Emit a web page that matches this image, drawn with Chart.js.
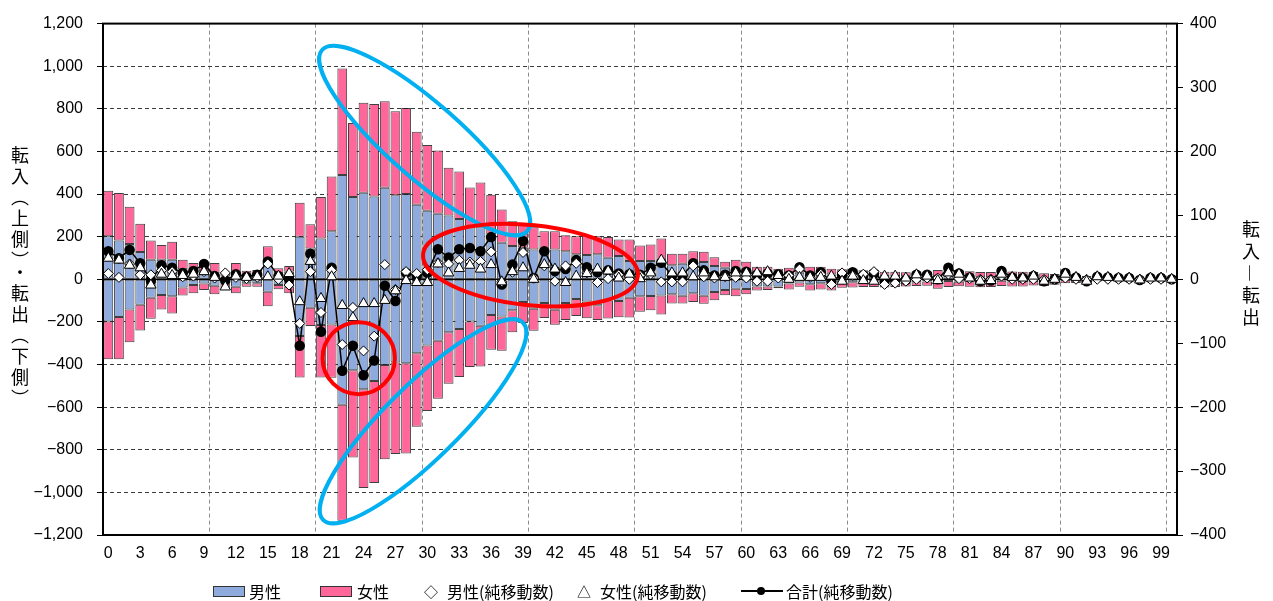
<!DOCTYPE html>
<html lang="ja">
<head>
<meta charset="utf-8">
<script src="https://cdn.jsdelivr.net/npm/chart.js@4.4.1/dist/chart.umd.min.js"></script>
<style>
  body { margin: 0; background: #fff; }
  #wrap { position: relative; width: 1273px; height: 601px; font-family: "Noto Sans CJK JP", sans-serif; color: #000; }
  #myChart { position: absolute; left: 0; top: 0; }
  .vtitle { position: absolute; writing-mode: vertical-rl; font-size: 18px; line-height: 20px; }
  .lg { position: absolute; top: 580px; font-size: 16px; line-height: 22px; white-space: nowrap; }
  .box { position: absolute; top: 586px; width: 30px; height: 9px; border: 1px solid #333; }
</style>
</head>
<body>
<div id="wrap">
  <canvas id="myChart" width="1273" height="601"></canvas>
  <div class="vtitle" style="left:10px; top:146px; letter-spacing:3px;">転入（上側）・転出（下側）</div>
  <div class="vtitle" style="left:1241px; top:220px; letter-spacing:4px;">転入―転出</div>

  <span class="box" style="left:213px; background:#8FAADC;"></span>
  <span class="lg" style="left:249px;">男性</span>
  <span class="box" style="left:320px; background:#FF6699;"></span>
  <span class="lg" style="left:357px;">女性</span>
  <span class="lg" style="left:424px; font-size:14px;">◇</span>
  <span class="lg" style="left:447px;">男性(純移動数)</span>
  <span class="lg" style="left:577px; font-size:14px;">△</span>
  <span class="lg" style="left:600px;">女性(純移動数)</span>
  <span style="position:absolute; left:741px; top:590px; width:42px; height:2px; background:#000;"></span>
  <span style="position:absolute; left:757px; top:587px; width:8px; height:8px; border-radius:50%; background:#000;"></span>
  <span class="lg" style="left:786px;">合計(純移動数)</span>
</div>
<script>
// 年齢 0〜100歳
const ages = Array.from({ length: 101 }, (_, i) => String(i));

// 転入（上側）
const maleIn = [
  202, 182, 166, 128, 92, 92, 92, 47, 33, 30,
  28, 13, 28, 20, 20, 60, 28, 36, 200, 145,
  191, 226, 489, 386, 406, 388, 430, 395, 400, 350,
  322, 308, 299, 283, 252, 244, 210, 171, 156, 148,
  140, 132, 140, 132, 117, 114, 117, 101, 109, 86,
  86, 86, 72, 66, 73, 86, 81, 62, 54, 47,
  47, 31, 31, 36, 26, 31, 26, 26, 23, 23,
  20, 23, 22, 16, 15, 14, 14, 12, 14, 16,
  12, 10, 10, 9, 12, 9, 8, 8, 6, 5,
  5, 4, 3, 2, 2, 1, 1, 1, 0, 0, 0
];
const femaleIn = [
  214, 223, 174, 133, 90, 69, 84, 45, 43, 40,
  48, 23, 48, 20, 24, 95, 24, 27, 159, 113,
  195, 256, 500, 348, 422, 435, 406, 394, 404, 342,
  308, 296, 225, 223, 179, 210, 187, 156, 116, 117,
  104, 94, 86, 75, 85, 88, 85, 97, 78, 101,
  73, 77, 119, 54, 47, 46, 48, 42, 28, 45,
  35, 28, 28, 14, 28, 23, 33, 33, 27, 24,
  30, 19, 23, 20, 20, 19, 24, 25, 30, 38,
  30, 28, 24, 25, 32, 28, 28, 26, 22, 20,
  24, 16, 12, 12, 9, 7, 6, 4, 4, 3, 4
];
// 転出（下側、正の値で保持）
const maleOut = [
  198, 177, 142, 119, 87, 74, 79, 38, 27, 20,
  30, 19, 35, 19, 19, 58, 27, 35, 266, 133,
  214, 212, 589, 427, 516, 477, 402, 390, 394, 347,
  311, 288, 249, 233, 198, 218, 167, 175, 145, 106,
  138, 111, 143, 111, 92, 104, 122, 100, 102, 86,
  80, 78, 76, 70, 77, 65, 77, 60, 50, 44,
  45, 34, 34, 34, 20, 15, 23, 18, 31, 13,
  14, 15, 10, 24, 21, 17, 14, 10, 12, 8,
  11, 9, 10, 9, 7, 9, 8, 8, 6, 5,
  3, 4, 3, 2, 2, 1, 1, 1, 0, 0, 0
];
const femaleOut = [
  177, 198, 154, 121, 98, 68, 82, 38, 39, 30,
  40, 31, 31, 16, 16, 69, 20, 31, 195, 86,
  247, 250, 544, 409, 464, 479, 442, 430, 423, 345,
  307, 272, 241, 226, 214, 191, 164, 160, 104, 99,
  104, 71, 70, 80, 80, 79, 69, 84, 76, 93,
  72, 67, 89, 44, 37, 42, 38, 38, 25, 35,
  25, 18, 16, 8, 28, 20, 30, 30, 22, 27,
  25, 21, 26, 15, 15, 17, 17, 20, 32, 28,
  22, 26, 27, 27, 24, 25, 26, 21, 25, 20,
  16, 13, 15, 8, 6, 5, 4, 5, 2, 1, 4
];

// 純移動数（右軸）
const maleNet = [
  9, 3, 24, 7, 7, 14, 12, 4, 5, 12,
  2, 10, 3, 1, 3, 24, 0, -9, -69, 12,
  -52, 14, -102, -44, -112, -89, 23, -16, 12, 9,
  15, 26, 24, 30, 27, 28, 43, -4, 11, 42,
  2, 21, -3, 21, 25, 10, -5, 1, 7, 0,
  6, 8, -4, -4, -4, 21, 4, 2, 4, 3,
  2, -3, -3, 2, 6, 16, 3, 8, -8, 10,
  6, 8, 12, -8, -6, -3, 0, 2, 2, 8,
  1, 1, 0, 0, 5, 0, 0, 0, 0, 0,
  2, 0, 0, 0, 0, 0, 0, 0, 0, 0, 0
];
const femaleNet = [
  33, 30, 22, 18, -9, 8, 6, 6, 8, 12,
  3, -12, 5, 3, 4, 4, 5, 9, -35, 28,
  -30, 4, -41, -60, -38, -38, -33, -18, -2, -5,
  -5, 24, 10, 17, 22, 16, 23, -4, 12, 18,
  0, 23, 16, -5, 5, 9, 16, 13, 2, 8,
  1, 10, 30, 10, 10, 4, 10, 4, 3, 10,
  10, 10, 12, 6, 0, 3, 3, 3, 5, -3,
  5, -2, -3, 5, 5, 2, 7, 5, -2, 10,
  8, 2, -3, -2, 8, 3, 2, 5, -3, 0,
  8, 3, -3, 4, 3, 2, 2, -1, 2, 2, 0
];
const totalNet = [
  44, 33, 46, 25, -2, 22, 18, 10, 13, 24,
  5, -2, 8, 4, 7, 28, 5, 0, -104, 40,
  -82, 18, -143, -104, -150, -127, -10, -34, 10, 4,
  10, 47, 34, 47, 49, 44, 66, -8, 23, 60,
  2, 44, 13, 16, 30, 19, 11, 14, 9, 8,
  7, 18, 26, 6, 6, 25, 14, 6, 7, 13,
  12, 7, 9, 8, 6, 19, 6, 11, -3, 7,
  11, 6, 9, -3, -1, -1, 7, 7, 0, 18,
  9, 3, -3, -2, 13, 3, 2, 5, -3, 0,
  10, 3, -3, 4, 3, 2, 2, -1, 2, 2, 0
];

// 強調の楕円（年齢インデックス・左軸の値で両端を指定、短径の半分はpx）
const callouts = [
  { color: '#00B0F0', from: [20.1, 1076], to: [39.4, 226], half: 37 },
  { color: '#00B0F0', from: [20.2, -1129], to: [39.0, -204], half: 37 },
  { color: '#FF0000', from: [29.6, 118], to: [49.8, 15], half: 40 },
  { color: '#FF0000', from: [20.15, -370], to: [26.95, -370], half: 36 }
];

const BLUE = '#8FAADC';
const PINK = '#FF6699';
const EDGE = 'rgba(30,30,30,0.85)';

function fmt(v) {
  return (v < 0 ? '\u2212' : '') + Math.abs(v).toLocaleString('en-US');
}

// 0ライン・枠線・楕円
const overlayPlugin = {
  id: 'overlay',
  afterDatasetDraw(chart, args) {
    if (args.index !== 0) return;
    const { ctx, chartArea: a, scales: { y } } = chart;
    const y0 = y.getPixelForValue(0);
    ctx.save();
    ctx.strokeStyle = '#000';
    ctx.lineWidth = 1.5;
    ctx.beginPath();
    ctx.moveTo(a.left, y0);
    ctx.lineTo(a.right, y0);
    ctx.stroke();
    ctx.restore();
  },
  afterDraw(chart) {
    const { ctx, chartArea: a, scales: { x, y } } = chart;
    ctx.save();
    ctx.strokeStyle = '#000';
    ctx.lineWidth = 2;
    ctx.strokeRect(a.left, a.top, a.right - a.left, a.bottom - a.top);
    ctx.lineWidth = 4;
    callouts.forEach(c => {
      const x1 = x.getPixelForValue(c.from[0]), y1 = y.getPixelForValue(c.from[1]);
      const x2 = x.getPixelForValue(c.to[0]), y2 = y.getPixelForValue(c.to[1]);
      const r = Math.hypot(x2 - x1, y2 - y1) / 2;
      ctx.strokeStyle = c.color;
      ctx.beginPath();
      ctx.ellipse((x1 + x2) / 2, (y1 + y2) / 2, r, c.half, Math.atan2(y2 - y1, x2 - x1), 0, Math.PI * 2);
      ctx.stroke();
    });
    ctx.restore();
  }
};

Chart.defaults.font.family = "'Liberation Sans', Arial, sans-serif";
Chart.defaults.font.size = 16;
Chart.defaults.color = '#000';

const barCommon = {
  type: 'bar', yAxisID: 'y', stack: 'm',
  borderColor: EDGE, borderWidth: 1, borderSkipped: false,
  categoryPercentage: 0.92, barPercentage: 1
};

const ctx = document.getElementById('myChart').getContext('2d');
const myChart = new Chart(ctx, {
  data: {
    labels: ages,
    datasets: [
      { ...barCommon, label: '男性', data: maleIn, backgroundColor: BLUE, order: 10 },
      { ...barCommon, label: '女性', data: femaleIn, backgroundColor: PINK, order: 11 },
      { ...barCommon, label: '男性転出', data: maleOut.map(v => -v), backgroundColor: BLUE, order: 12 },
      { ...barCommon, label: '女性転出', data: femaleOut.map(v => -v), backgroundColor: PINK, order: 13 },
      {
        type: 'line', label: '合計(純移動数)', data: totalNet, yAxisID: 'y2',
        borderColor: '#000', borderWidth: 1.5, tension: 0,
        pointStyle: 'circle', pointRadius: 4.5,
        pointBackgroundColor: '#000', pointBorderColor: '#000', order: 3
      },
      {
        type: 'line', label: '男性(純移動数)', data: maleNet, yAxisID: 'y2', showLine: false,
        pointStyle: 'rectRot', pointRadius: 5,
        pointBackgroundColor: '#fff', pointBorderColor: '#000', pointBorderWidth: 1, order: 2
      },
      {
        type: 'line', label: '女性(純移動数)', data: femaleNet, yAxisID: 'y2', showLine: false,
        pointStyle: 'triangle', pointRadius: 6,
        pointBackgroundColor: '#fff', pointBorderColor: '#000', pointBorderWidth: 1, order: 1
      }
    ]
  },
  options: {
    responsive: false,
    animation: false,
    layout: { padding: { top: 21, left: 0, right: 0, bottom: 0 } },
    plugins: { legend: { display: false }, tooltip: { enabled: false } },
    scales: {
      x: {
        stacked: true,
        offset: true,
        grid: {
          offset: true,
          drawTicks: false,
          color: c => (c.index > 0 && c.index % 10 === 0) ? '#8c8c8c' : 'rgba(0,0,0,0)'
        },
        border: { display: false, dash: [4, 3] },
        ticks: {
          autoSkip: false, maxRotation: 0, minRotation: 0, padding: 9,
          callback: (v, i) => (i % 3 === 0 ? ages[i] : '')
        },
        afterFit: s => { s.height = 66; }
      },
      y: {
        stacked: true,
        position: 'left',
        min: -1200, max: 1200,
        grid: {
          color: c => (c.tick && c.tick.value === 0) ? 'rgba(0,0,0,0)' : '#3a3a3a',
          tickColor: '#000', tickLength: 6
        },
        border: { display: false, dash: [4, 3] },
        ticks: { stepSize: 200, padding: 14, callback: v => fmt(v) },
        afterFit: s => { s.width = 103; }
      },
      y2: {
        position: 'right',
        min: -400, max: 400,
        grid: { drawOnChartArea: false, tickColor: '#000', tickLength: 6 },
        border: { display: false },
        ticks: { stepSize: 100, padding: 7, callback: v => fmt(v) },
        afterFit: s => { s.width = 96; }
      }
    }
  },
  plugins: [overlayPlugin]
});
</script>
</body>
</html>
